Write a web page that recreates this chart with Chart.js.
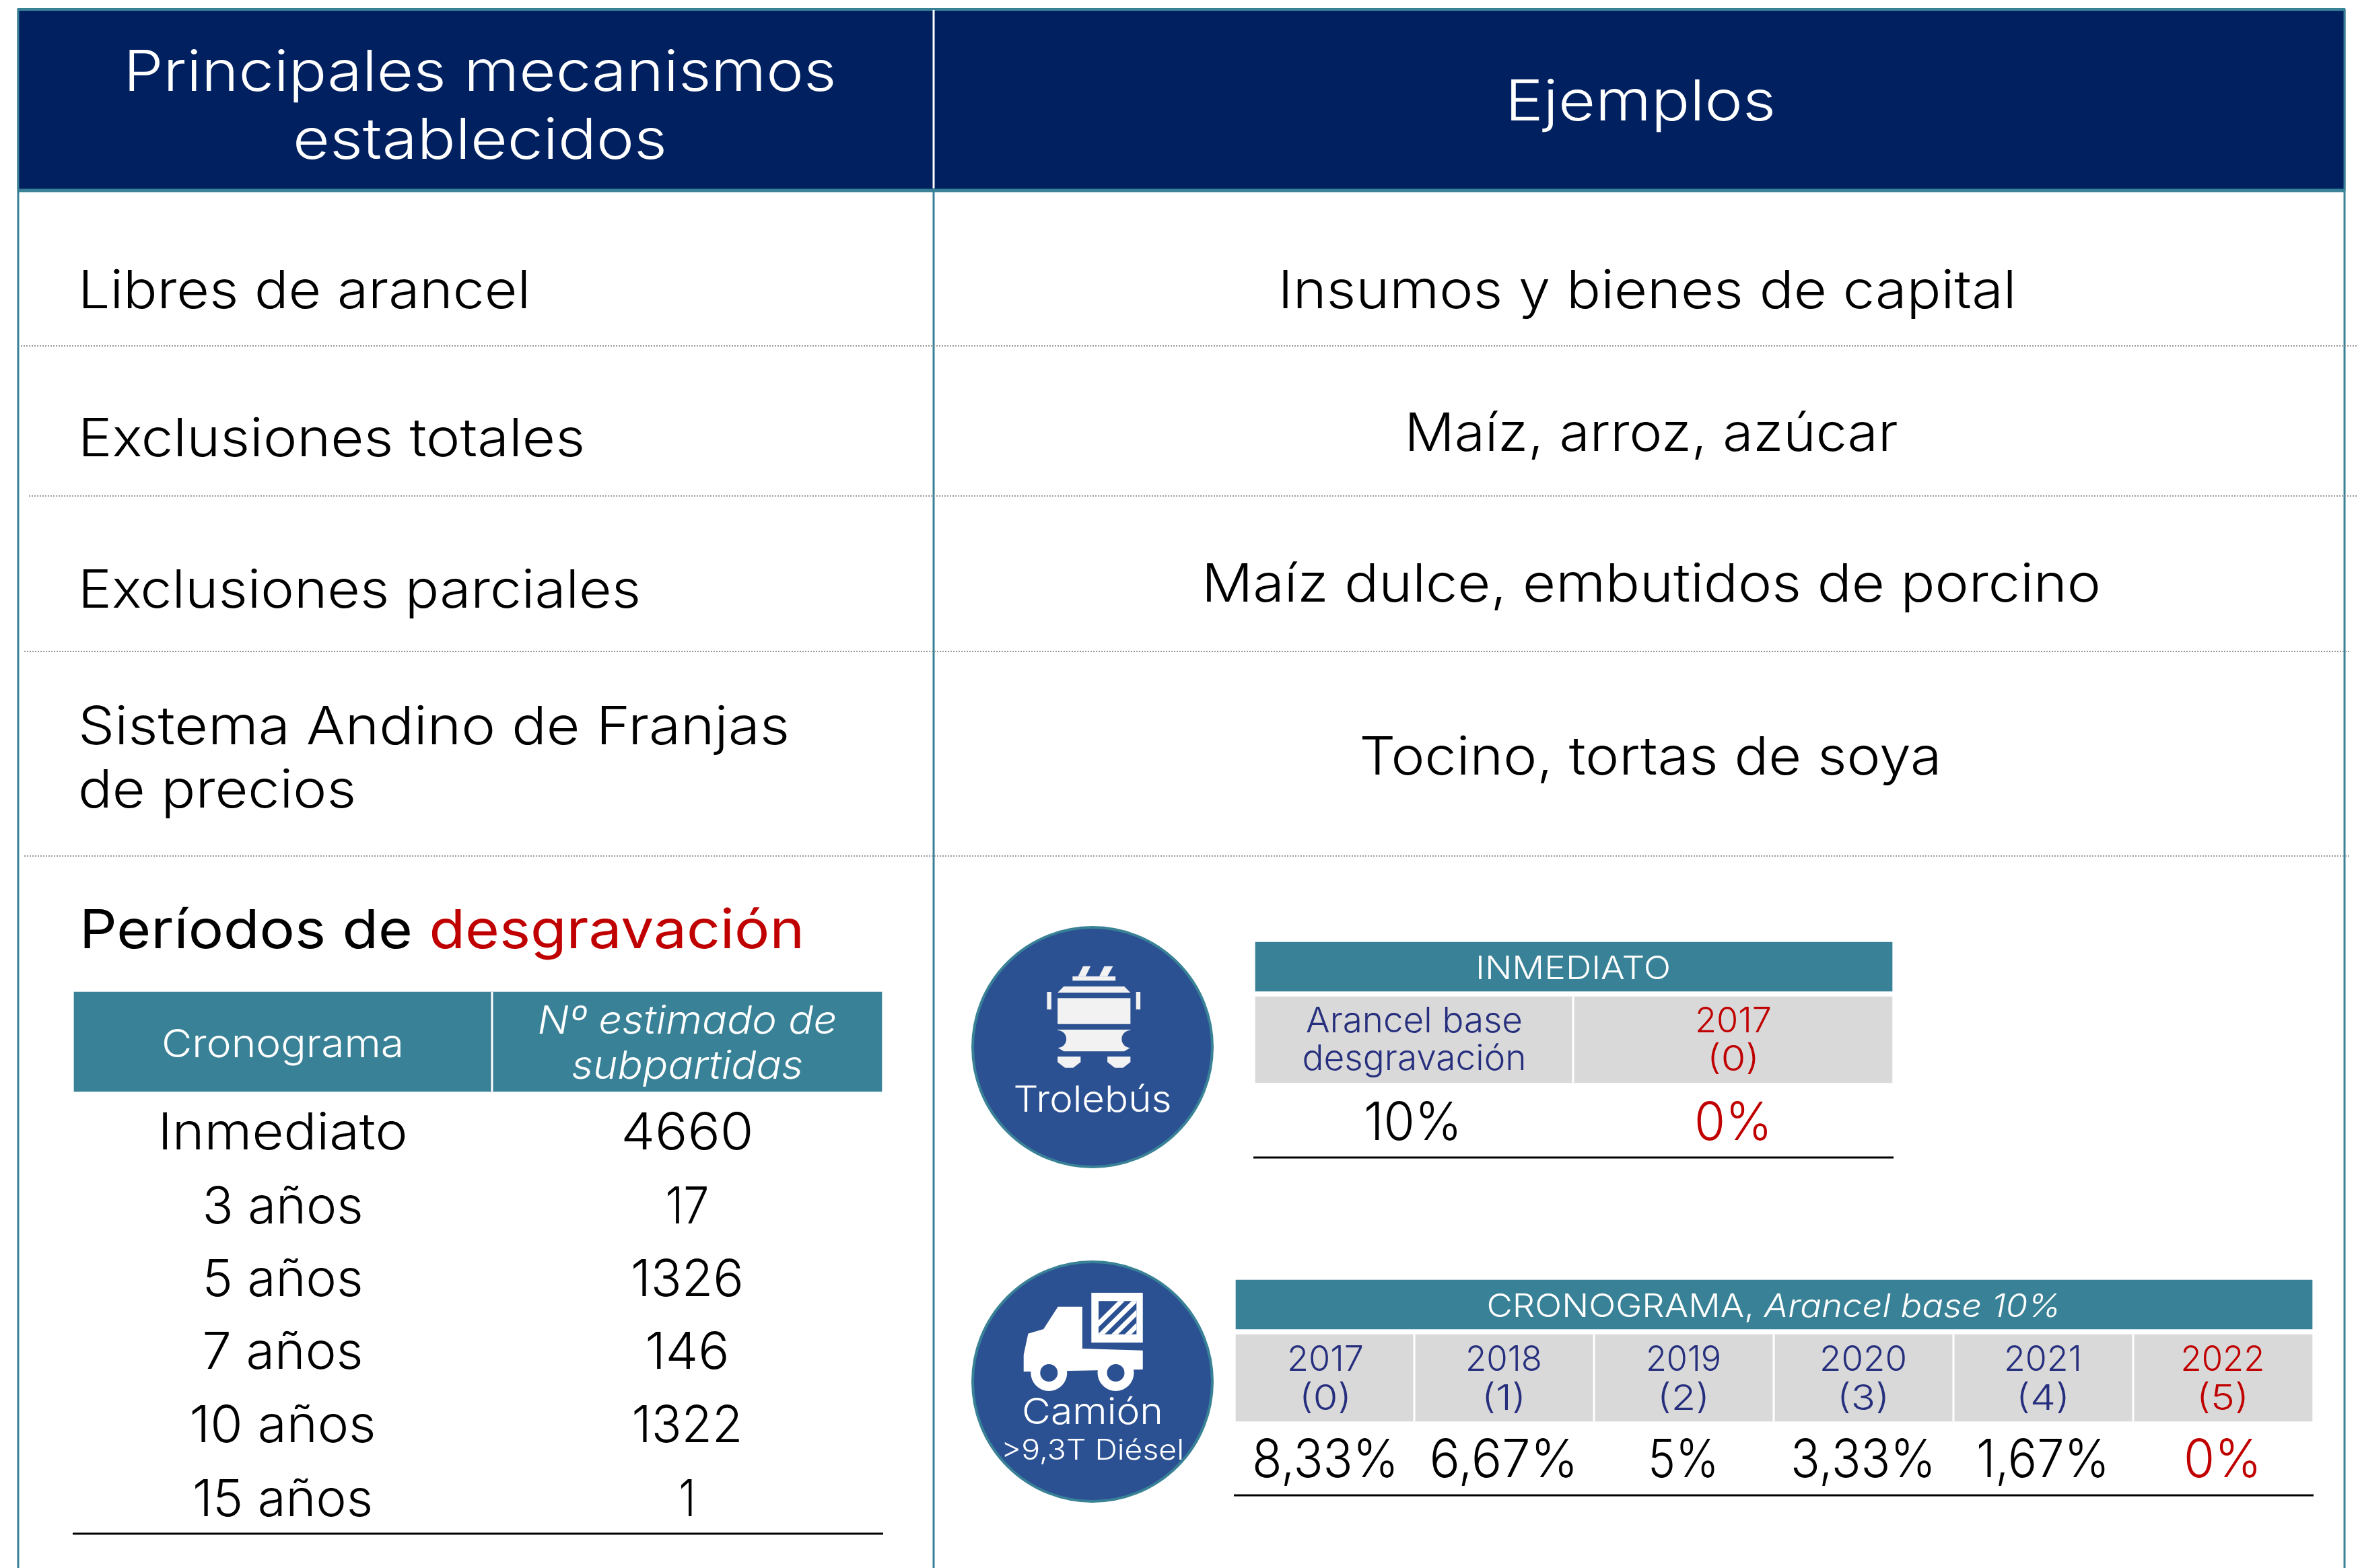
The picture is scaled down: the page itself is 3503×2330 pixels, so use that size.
<!DOCTYPE html>
<html>
<head>
<meta charset="utf-8">
<style>
  html, body { margin: 0; padding: 0; background: #fff; }
  canvas { display: block; }
</style>
<script src="https://cdn.jsdelivr.net/npm/chart.js@4"></script>
</head>
<body>
<canvas id="tabla" width="3503" height="2330"></canvas>
<script>
// Table content
const headers = ["Principales mecanismos", "establecidos", "Ejemplos"];
const mecanismos = ["Libres de arancel", "Exclusiones totales", "Exclusiones parciales", "Sistema Andino de Franjas", "de precios"];
const ejemplos = ["Insumos y bienes de capital", "Maíz, arroz, azúcar", "Maíz dulce, embutidos de porcino", "Tocino, tortas de soya"];
const cronograma = ["Inmediato", "3 años", "5 años", "7 años", "10 años", "15 años"];
const subpartidas = [4660, 17, 1326, 146, 1322, 1];
const trolebusArancel = [10, 0];
const camionYears = [2017, 2018, 2019, 2020, 2021, 2022];
const camionArancel = [8.33, 6.67, 5, 3.33, 1.67, 0];

// Colours and font
const NAVY = "#002060", TEAL = "#398196", BLUE = "#2B5192", GREY = "#D9D9D9",
      INK = "#262F7D", RED = "#C00000", ICON = "#F2F2F2";
const FONT = "Inter";

const pct = v => String(v).replace(".", ",") + "%";

// Layout in page units (the hidden x and y scales run over the whole page)
// Chart.js paints the lowest order last, so later items get a lower order
const datasets = [];
function cell(x0, x1, y0, y1, color) {
  datasets.push({ type: "bar", order: -datasets.length, grouped: false, barThickness: x1 - x0, backgroundColor: color,
    data: [{ x: (x0 + x1) / 2, y: [y0, y1] }] });
}
function rule(x0, y0, x1, y1, color, width, dash) {
  datasets.push({ type: "line", order: -datasets.length, borderColor: color, borderWidth: width, borderDash: dash || [], pointRadius: 0, clip: false,
    data: [{ x: x0, y: y0 }, { x: x1, y: y1 }] });
}
function disc(x, y, r) {
  datasets.push({ type: "scatter", order: -datasets.length, pointRadius: r, pointBackgroundColor: BLUE, pointBorderColor: TEAL, pointBorderWidth: 4,
    data: [{ x: x, y: y }] });
}

// Main header
cell(26, 3484, 13, 283, NAVY);
rule(26, 14, 3484, 14, TEAL, 4);
rule(26, 283, 3484, 283, TEAL, 5);
rule(1387, 15, 1387, 280, "#ffffff", 3);

// Frame
rule(27, 14, 27, 2330, TEAL, 3);
rule(1387, 285, 1387, 2330, TEAL, 3);
rule(3483, 14, 3483, 2330, TEAL, 3);

// Dotted row separators
rule(31, 514, 3503, 514, "#999999", 2, [2, 2]);
rule(43, 737, 3503, 737, "#999999", 2, [2, 2]);
rule(36, 968, 3490, 968, "#999999", 2, [2, 2]);
rule(36, 1272, 3490, 1272, "#999999", 2, [2, 2]);

// Periods table
cell(110, 1310, 1474, 1622, TEAL);
rule(731, 1474, 731, 1622, "#ffffff", 3);
rule(108, 2279, 1312, 2279, "#000000", 3);

// Trolley
disc(1623, 1556, 178);
cell(1865, 2811, 1400, 1473, TEAL);
cell(1865, 2811, 1481, 1609, GREY);
rule(2337, 1481, 2337, 1609, "#ffffff", 3);
rule(1862, 1720, 2813, 1720, "#000000", 3);

// Truck
disc(1623, 2053, 178);
cell(1836, 3435, 1902, 1975, TEAL);
cell(1836, 3435, 1983, 2112, GREY);
[2101, 2368, 2635, 2902, 3169].forEach(x => rule(x, 1983, x, 2112, "#ffffff", 3));
rule(1833, 2222, 3437, 2222, "#000000", 3);

// Texts, measured against the reference. The original face is wider than Inter,
// so each text is stretched sideways to the width it has there
const texts = [];
function mixed(parts, x, y, size, width, align, weight) {
  texts.push({ parts, x, y, size, width, align: align || "center", weight: weight || 300 });
}
function label(str, x, y, size, color, width, align, weight) {
  mixed([{ str: str, color: color }], x, y, size, width, align, weight);
}

label(headers[0], 713, 135, 84, "#ffffff", 1059);
label(headers[1], 713, 236, 84, "#ffffff", 556);
label(headers[2], 2437, 179, 84, "#ffffff", 402);

const mecanismoY = [458, 678, 903, 1106, 1200], mecanismoW = [672, 753, 836, 1057, 413];
mecanismoY.forEach((y, i) => label(mecanismos[i], 116, y, 78, "#000000", mecanismoW[i], "left"));
const ejemploX = [2447, 2453, 2453, 2452], ejemploY = [458, 670, 894, 1151], ejemploW = [1097, 733, 1336, 865];
ejemploY.forEach((y, i) => label(ejemplos[i], ejemploX[i], y, 78, "#000000", ejemploW[i]));

mixed([{ str: "Períodos de ", color: "#000000" }, { str: "desgravación", color: RED }], 118, 1409, 80, 1077, "left", 400);

label("Cronograma", 420, 1571, 58, "#ffffff", 360);
mixed([{ str: "Nº estimado de", color: "#ffffff", italic: true }], 1021, 1536, 58, 445);
mixed([{ str: "subpartidas", color: "#ffffff", italic: true }], 1021, 1603, 58, 344);
const periodY = [1708, 1818, 1926, 2034, 2143, 2253];
const cronogramaW = [371, 239, 239, 239, 277, 268], subpartidaW = [197, 65, 168, 125, 165, 25];
periodY.forEach((y, i) => {
  label(cronograma[i], 420, y, 76, "#000000", cronogramaW[i]);
  label(String(subpartidas[i]), 1021, y, 76, "#000000", subpartidaW[i]);
});

label("Trolebús", 1623, 1652, 54, "#ffffff", 235);
label("INMEDIATO", 2337, 1455, 48, "#ffffff", 290);
label("Arancel base", 2101, 1534, 52, INK, 322);
label("desgravación", 2101, 1590, 52, INK, 333);
label("2017", 2575, 1534, 52, RED, 114);
label("(0)", 2575, 1591, 52, RED, 78);
label(pct(trolebusArancel[0]), 2099, 1694, 78, "#000000", 146);
label(pct(trolebusArancel[1]), 2575, 1694, 78, RED, 116);

label("Camión", 1623, 2116, 54, "#ffffff", 210);
label(">9,3T Diésel", 1623, 2169, 42, "#ffffff", 272);
mixed([{ str: "CRONOGRAMA, ", color: "#ffffff" }, { str: "Arancel base 10%", color: "#ffffff", italic: true }], 2635, 1957, 48, 853);
const yearX = [1969, 2234, 2501, 2768, 3035, 3302];
const yearW = [114, 114, 112, 130, 116, 125], parenW = [78, 66, 78, 78, 80, 78], pctW = [218, 221, 106, 216, 198, 116];
yearX.forEach((x, i) => {
  const last = i === camionYears.length - 1;
  label(String(camionYears[i]), x, 2037, 52, last ? RED : INK, yearW[i]);
  label("(" + i + ")", x, 2095, 52, last ? RED : INK, parenW[i]);
  label(pct(camionArancel[i]), x, 2195, 78, last ? RED : "#000000", pctW[i]);
});

// Icon outlines, taken from crops of the reference
const t = (x, y) => [1400 + x / 1.081, 1340 + y / 3];
const z = (x, y) => [1400 + x / 0.7456, 1850 + y / 3];

const iconPlugin = {
  id: "iconos",
  afterDatasetsDraw(chart) {
    const ctx = chart.ctx, sx = chart.scales.x, sy = chart.scales.y;
    const px = p => [sx.getPixelForValue(p[0]), sy.getPixelForValue(p[1])];
    const poly = (pts, color) => {
      ctx.fillStyle = color;
      ctx.beginPath();
      pts.forEach((p, i) => { const q = px(p); i ? ctx.lineTo(q[0], q[1]) : ctx.moveTo(q[0], q[1]); });
      ctx.closePath();
      ctx.fill();
    };
    const box = (a, b, color) => poly([a, [b[0], a[1]], b, [a[0], b[1]]], color);
    const round = (c, r, color) => {
      const q = px(c);
      ctx.fillStyle = color;
      ctx.beginPath();
      ctx.arc(q[0], q[1], r, 0, Math.PI * 2);
      ctx.fill();
    };
    ctx.save();

    // Trolley
    poly([t(226, 287), t(238, 287), t(230, 332), t(218, 332)], ICON);
    poly([t(260, 287), t(274, 287), t(265, 332), t(252, 332)], ICON);
    box(t(209, 332), t(278, 352), ICON);
    poly([t(195, 377), t(292, 377), t(302, 405), t(185, 405)], ICON);
    box(t(185, 430), t(302, 545), ICON);
    box(t(168, 402), t(175, 480), ICON);
    box(t(311, 402), t(318, 480), ICON);
    poly([t(185, 570), t(302, 570), t(302, 640), t(302, 650), t(292, 667), t(195, 667), t(185, 650)], ICON);
    round(t(185, 612), 13, BLUE);
    round(t(302, 612), 13, BLUE);
    poly([t(185, 690), t(222, 690), t(222, 715), t(210, 740), t(197, 740), t(185, 715)], ICON);
    poly([t(265, 690), t(302, 690), t(302, 715), t(290, 740), t(277, 740), t(265, 715)], ICON);

    // Truck
    poly([z(128, 275), z(155, 275), z(155, 462), z(222, 470), z(222, 555), z(90, 565), z(90, 490), z(95, 395), z(112, 375)], "#ffffff");
    box(z(165, 213), z(222, 435), "#ffffff");
    box(z(173, 250), z(215, 398), BLUE);
    ctx.save();
    const h0 = px(z(173, 250)), h1 = px(z(215, 398));
    ctx.beginPath();
    ctx.rect(h0[0], h0[1], h1[0] - h0[0], h1[1] - h0[1]);
    ctx.clip();
    ctx.strokeStyle = "#ffffff";
    ctx.lineWidth = 7;
    [0, 1, 2, 3, 4].forEach(k => {
      ctx.beginPath();
      ctx.moveTo(h0[0] - 20 + k * 20, h1[1] + 4);
      ctx.lineTo(h0[0] + 38 + k * 20, h0[1] - 4);
      ctx.stroke();
    });
    ctx.restore();
    round(z(118, 570), 27, "#ffffff");
    round(z(192, 570), 27, "#ffffff");
    round(z(118, 570), 13, BLUE);
    round(z(192, 570), 13, BLUE);
    ctx.restore();
  }
};

const textPlugin = {
  id: "textos",
  afterDraw(chart) {
    const ctx = chart.ctx, sx = chart.scales.x, sy = chart.scales.y;
    ctx.textBaseline = "alphabetic";
    ctx.textAlign = "left";
    texts.forEach(item => {
      const fontOf = p => (p.italic ? "italic " : "") + item.weight + " " + item.size + "px " + FONT + ", sans-serif";
      let total = 0;
      item.parts.forEach(p => { ctx.font = fontOf(p); total += ctx.measureText(p.str).width; });
      const k = item.width / total;
      const left = sx.getPixelForValue(item.x) - (item.align === "center" ? item.width / 2 : 0);
      ctx.save();
      ctx.translate(left, sy.getPixelForValue(item.y));
      ctx.scale(k, 1);
      let x = 0;
      item.parts.forEach(p => {
        ctx.font = fontOf(p);
        ctx.fillStyle = p.color;
        ctx.fillText(p.str, x, 0);
        x += ctx.measureText(p.str).width;
      });
      ctx.restore();
    });
  }
};

new Chart(document.getElementById("tabla"), {
  data: { datasets: datasets },
  plugins: [iconPlugin, textPlugin],
  options: {
    responsive: false,
    animation: false,
    events: [],
    layout: { padding: 0, autoPadding: false },
    plugins: { legend: { display: false }, tooltip: { enabled: false } },
    scales: {
      x: { type: "linear", min: 0, max: 3503, display: false, offset: false },
      y: { type: "linear", min: 0, max: 2330, reverse: true, display: false }
    }
  }
});
</script>
</body>
</html>
